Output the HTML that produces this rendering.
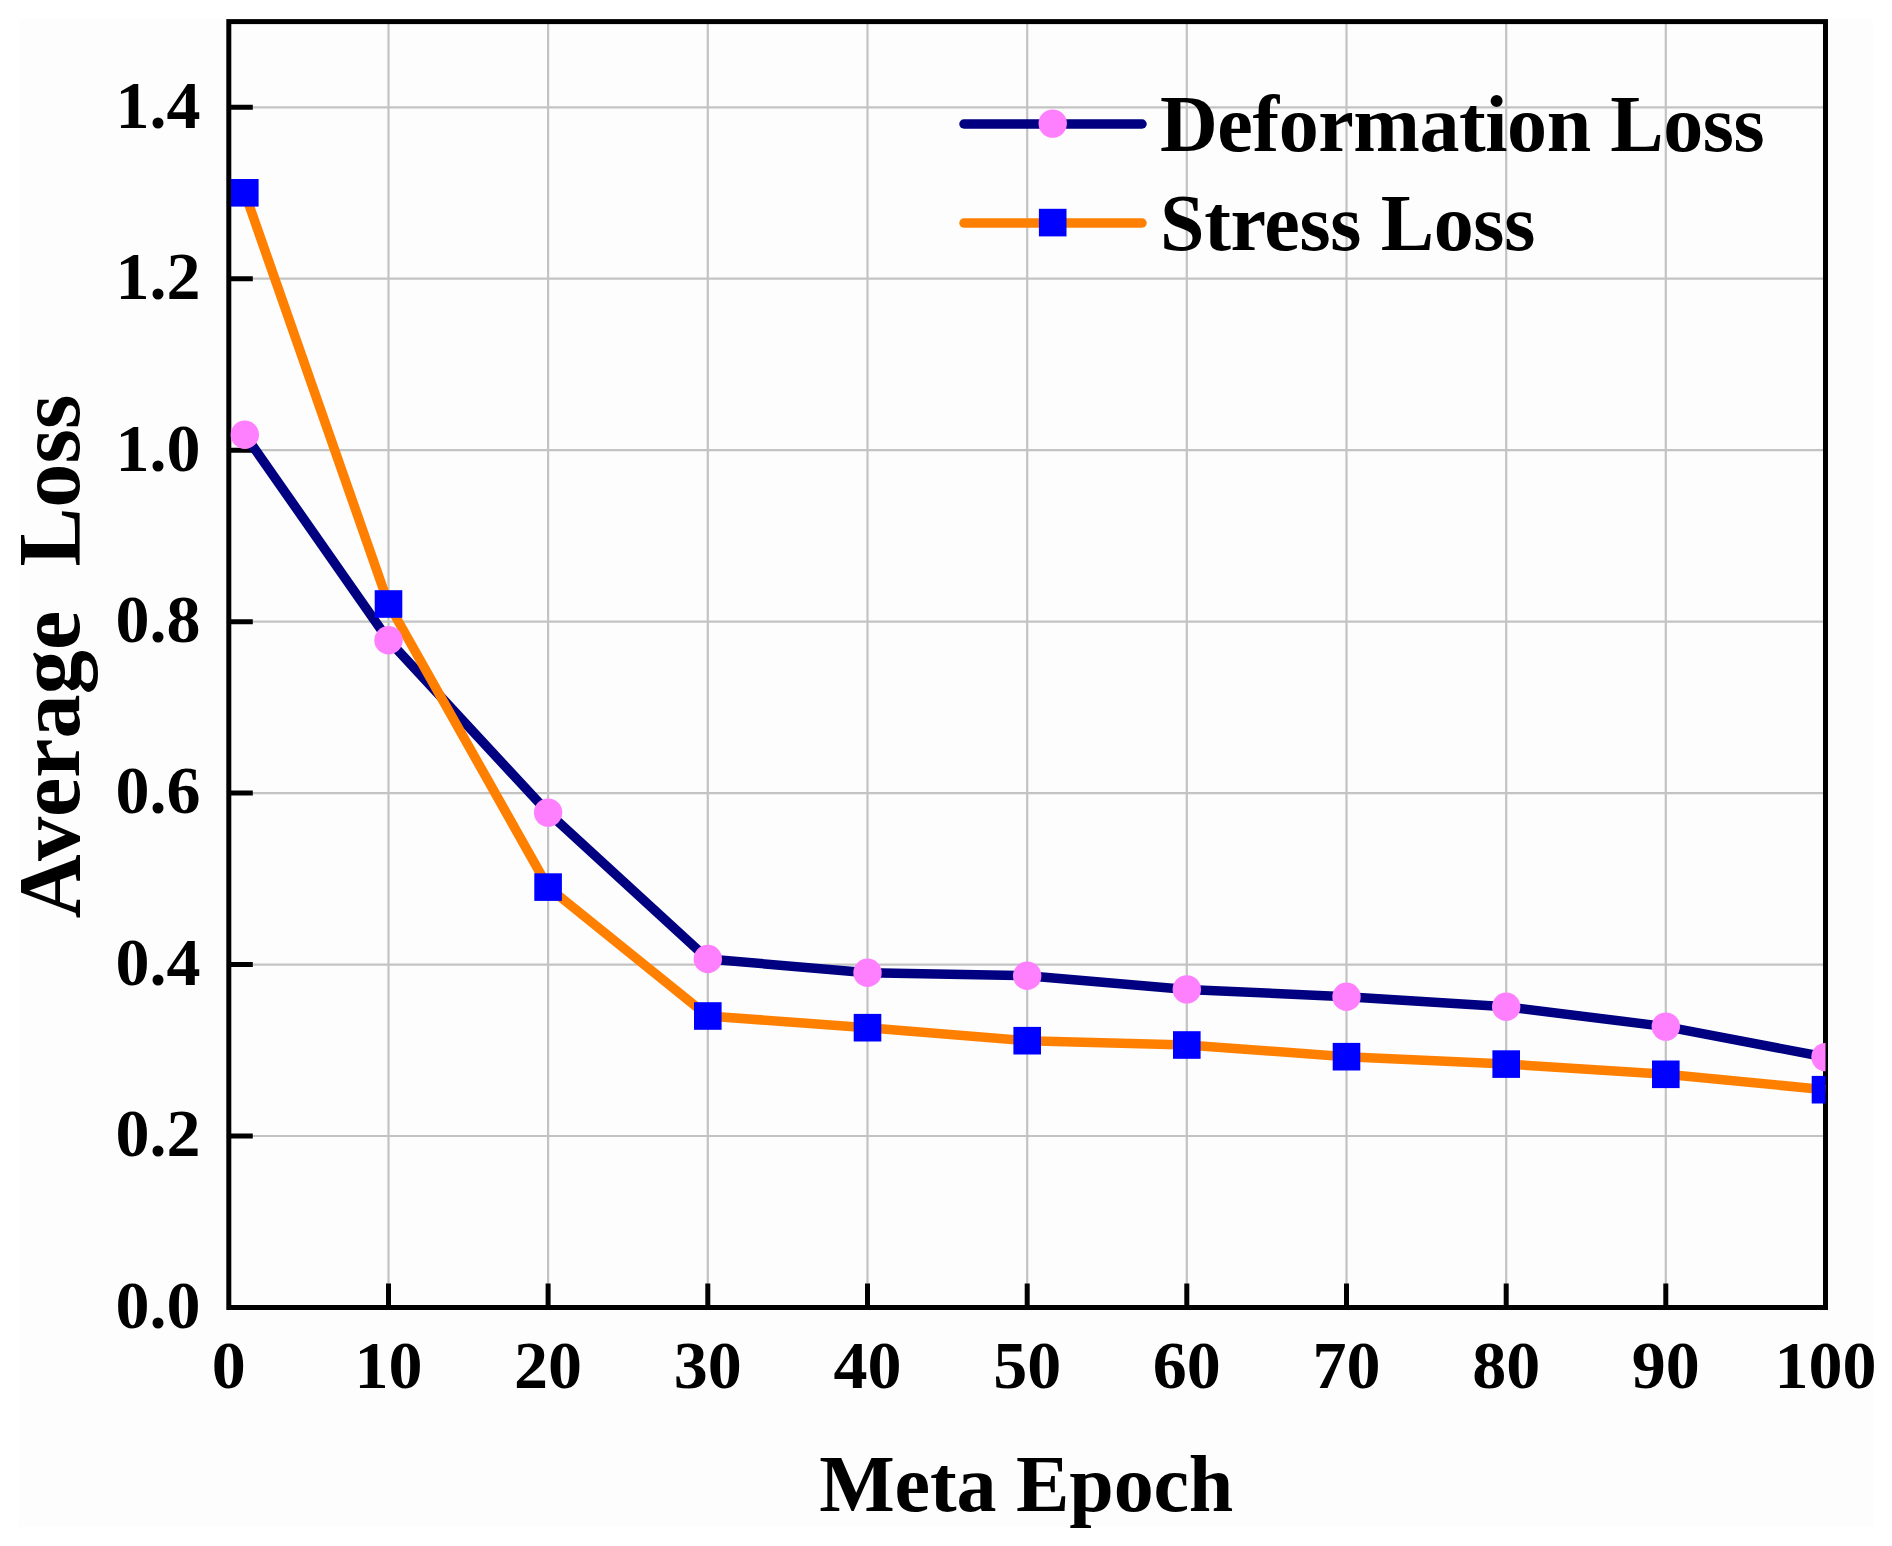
<!DOCTYPE html><html><head><meta charset="utf-8"><style>html,body{margin:0;padding:0;background:#fff;width:1892px;height:1546px;overflow:hidden}svg{display:block}text{font-family:"Liberation Serif",serif;font-weight:bold;fill:#000}</style></head><body>
<svg width="1892" height="1546" viewBox="0 0 1892 1546">
<rect x="0" y="0" width="1892" height="1546" fill="#ffffff"/>
<rect x="19" y="19" width="1854" height="1508" fill="#fdfdfd"/>
<defs><clipPath id="pc"><rect x="228.8" y="21.6" width="1596.7" height="1285.9"/></clipPath></defs>
<path d="M388.5 21.6V1307.5M548.1 21.6V1307.5M707.8 21.6V1307.5M867.5 21.6V1307.5M1027.2 21.6V1307.5M1186.8 21.6V1307.5M1346.5 21.6V1307.5M1506.2 21.6V1307.5M1665.8 21.6V1307.5M228.8 1136.0H1825.5M228.8 964.6H1825.5M228.8 793.1H1825.5M228.8 621.7H1825.5M228.8 450.2H1825.5M228.8 278.7H1825.5M228.8 107.3H1825.5" stroke="#c3c3c3" stroke-width="2.2" fill="none"/>
<path d="M388.5 1307.5V1283.5M548.1 1307.5V1283.5M707.8 1307.5V1283.5M867.5 1307.5V1283.5M1027.2 1307.5V1283.5M1186.8 1307.5V1283.5M1346.5 1307.5V1283.5M1506.2 1307.5V1283.5M1665.8 1307.5V1283.5M228.8 1136.0H252.8M228.8 964.6H252.8M228.8 793.1H252.8M228.8 621.7H252.8M228.8 450.2H252.8M228.8 278.7H252.8M228.8 107.3H252.8" stroke="#000" stroke-width="5" fill="none"/>
<rect x="228.8" y="21.6" width="1596.7" height="1285.9" stroke="#000" stroke-width="5" fill="none"/>
<g clip-path="url(#pc)">
<polyline points="244.8,434.7 388.5,640.2 548.1,812.6 707.8,959.0 867.5,972.7 1027.2,975.7 1186.8,989.4 1346.5,996.7 1506.2,1006.8 1665.8,1026.6 1825.5,1057.1" stroke="#000080" stroke-width="9.5" fill="none" stroke-linejoin="round"/>
<polyline points="244.8,192.8 388.5,604.0 548.1,887.1 707.8,1016.0 867.5,1027.7 1027.2,1040.7 1186.8,1045.0 1346.5,1056.7 1506.2,1064.1 1665.8,1074.3 1825.5,1089.7" stroke="#ff8000" stroke-width="9.5" fill="none" stroke-linejoin="round"/>
<circle cx="244.8" cy="434.7" r="14.2" fill="#ff80ff"/>
<circle cx="388.5" cy="640.2" r="14.2" fill="#ff80ff"/>
<circle cx="548.1" cy="812.6" r="14.2" fill="#ff80ff"/>
<circle cx="707.8" cy="959.0" r="14.2" fill="#ff80ff"/>
<circle cx="867.5" cy="972.7" r="14.2" fill="#ff80ff"/>
<circle cx="1027.2" cy="975.7" r="14.2" fill="#ff80ff"/>
<circle cx="1186.8" cy="989.4" r="14.2" fill="#ff80ff"/>
<circle cx="1346.5" cy="996.7" r="14.2" fill="#ff80ff"/>
<circle cx="1506.2" cy="1006.8" r="14.2" fill="#ff80ff"/>
<circle cx="1665.8" cy="1026.6" r="14.2" fill="#ff80ff"/>
<circle cx="1825.5" cy="1057.1" r="14.2" fill="#ff80ff"/>
<rect x="231.0" y="179.0" width="27.6" height="27.6" fill="#0000ff"/>
<rect x="374.7" y="590.2" width="27.6" height="27.6" fill="#0000ff"/>
<rect x="534.3" y="873.3" width="27.6" height="27.6" fill="#0000ff"/>
<rect x="694.0" y="1002.2" width="27.6" height="27.6" fill="#0000ff"/>
<rect x="853.7" y="1013.9" width="27.6" height="27.6" fill="#0000ff"/>
<rect x="1013.4" y="1026.9" width="27.6" height="27.6" fill="#0000ff"/>
<rect x="1173.0" y="1031.2" width="27.6" height="27.6" fill="#0000ff"/>
<rect x="1332.7" y="1042.9" width="27.6" height="27.6" fill="#0000ff"/>
<rect x="1492.4" y="1050.3" width="27.6" height="27.6" fill="#0000ff"/>
<rect x="1652.0" y="1060.5" width="27.6" height="27.6" fill="#0000ff"/>
<rect x="1811.7" y="1075.9" width="27.6" height="27.6" fill="#0000ff"/>
</g>
<line x1="964" y1="124" x2="1142" y2="124" stroke="#000080" stroke-width="9.5" stroke-linecap="round"/>
<circle cx="1052.7" cy="123.6" r="14.2" fill="#ff80ff"/>
<line x1="964" y1="223" x2="1142" y2="223" stroke="#ff8000" stroke-width="9.5" stroke-linecap="round"/>
<rect x="1038.9" y="208.8" width="27.6" height="27.6" fill="#0000ff"/>
<text x="1160" y="151" font-size="80" letter-spacing="-0.43">Deformation Loss</text>
<text x="1160" y="250" font-size="80" letter-spacing="-0.33">Stress Loss</text>
<text x="200.5" y="1327.8" font-size="68" text-anchor="end">0.0</text>
<text x="200.5" y="1156.3" font-size="68" text-anchor="end">0.2</text>
<text x="200.5" y="984.9" font-size="68" text-anchor="end">0.4</text>
<text x="200.5" y="813.4" font-size="68" text-anchor="end">0.6</text>
<text x="200.5" y="642.0" font-size="68" text-anchor="end">0.8</text>
<text x="200.5" y="470.5" font-size="68" text-anchor="end">1.0</text>
<text x="200.5" y="299.0" font-size="68" text-anchor="end">1.2</text>
<text x="200.5" y="127.6" font-size="68" text-anchor="end">1.4</text>
<text x="228.8" y="1387.5" font-size="68" text-anchor="middle">0</text>
<text x="388.5" y="1387.5" font-size="68" text-anchor="middle">10</text>
<text x="548.1" y="1387.5" font-size="68" text-anchor="middle">20</text>
<text x="707.8" y="1387.5" font-size="68" text-anchor="middle">30</text>
<text x="867.5" y="1387.5" font-size="68" text-anchor="middle">40</text>
<text x="1027.2" y="1387.5" font-size="68" text-anchor="middle">50</text>
<text x="1186.8" y="1387.5" font-size="68" text-anchor="middle">60</text>
<text x="1346.5" y="1387.5" font-size="68" text-anchor="middle">70</text>
<text x="1506.2" y="1387.5" font-size="68" text-anchor="middle">80</text>
<text x="1665.8" y="1387.5" font-size="68" text-anchor="middle">90</text>
<text x="1825.5" y="1387.5" font-size="68" text-anchor="middle">100</text>
<text x="1026.2" y="1511" font-size="80" text-anchor="middle" letter-spacing="-0.15">Meta Epoch</text>
<text transform="translate(78.8,656.5) rotate(-90)" font-size="88.4" text-anchor="middle" xml:space="preserve">Average  Loss</text>
</svg></body></html>
